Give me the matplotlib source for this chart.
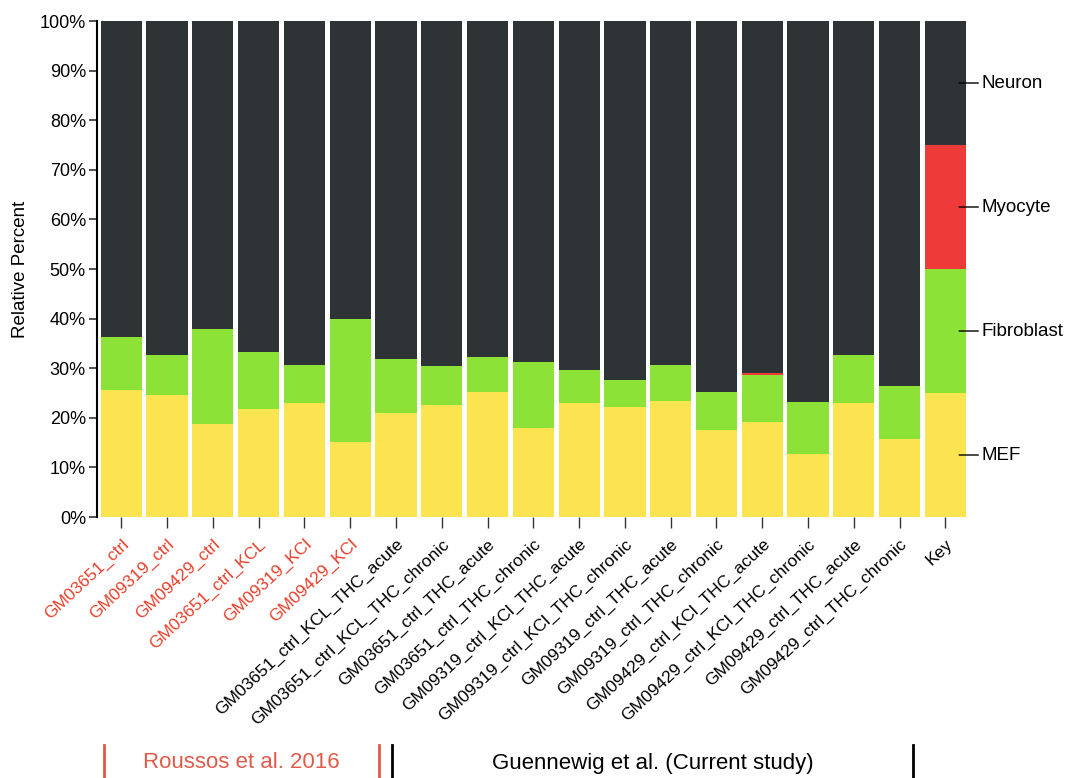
import numpy as np
import matplotlib.pyplot as plt
from matplotlib import transforms

plt.rcParams['font.family'] = ['Liberation Sans', 'DejaVu Sans']

# Muestras y proporciones de cada tipo celular (%)
samples = ["GM03651_ctrl", "GM09319_ctrl", "GM09429_ctrl", "GM03651_ctrl_KCL",
           "GM09319_KCl", "GM09429_KCl",
           "GM03651_ctrl_KCL_THC_acute", "GM03651_ctrl_KCL_THC_chronic",
           "GM03651_ctrl_THC_acute", "GM03651_ctrl_THC_chronic",
           "GM09319_ctrl_KCl_THC_acute", "GM09319_ctrl_KCl_THC_chronic",
           "GM09319_ctrl_THC_acute", "GM09319_ctrl_THC_chronic",
           "GM09429_ctrl_KCl_THC_acute", "GM09429_ctrl_KCl_THC_chronic",
           "GM09429_ctrl_THC_acute", "GM09429_ctrl_THC_chronic", "Key"]

mef        = [25.7, 24.5, 18.8, 21.7, 22.9, 15.2, 21.0, 22.6, 25.2, 17.9,
              23.0, 22.2, 23.4, 17.5, 19.2, 12.7, 23.0, 15.7, 25.0]
fibroblast = [10.5, 8.2, 19.1, 11.5, 7.8, 24.7, 10.9, 7.8, 7.1, 13.4,
              6.6, 5.5, 7.3, 7.7, 9.5, 10.5, 9.7, 10.8, 25.0]
myocyte    = [0, 0, 0, 0, 0, 0, 0, 0, 0, 0,
              0, 0, 0, 0, 0.3, 0, 0, 0, 25.0]
neuron     = list(100 - np.array(mef) - np.array(fibroblast) - np.array(myocyte))

cell_types = ["MEF", "Fibroblast", "Myocyte", "Neuron"]
colors = ["#fbe44f", "#8ce236", "#ee3a39", "#2e3336"]
n_published = 6   # primeras muestras: Roussos et al. 2016

fig = plt.figure(figsize=(10.71, 7.78), dpi=100)
ax = fig.add_axes([97/1071, 261/778, 869/1071, 496/778])

x = np.arange(len(samples))
bottom = np.zeros(len(samples))
for vals, col in zip([mef, fibroblast, myocyte, neuron], colors):
    vals = np.array(vals)
    ax.bar(x, vals, bottom=bottom, width=0.9, color=col,
           edgecolor='none', linewidth=0)
    bottom += vals

ax.set_xlim(-0.53, 18.45)
ax.set_ylim(0, 100)
ax.set_yticks(np.arange(0, 101, 10))
ax.set_yticklabels([f"{v}%" for v in range(0, 101, 10)], fontsize=13)
ax.set_ylabel("Relative Percent", fontsize=13.5, labelpad=8)

ax.set_xticks(x)
ax.set_xticklabels(samples, rotation=43, ha='right', rotation_mode='anchor',
                   fontsize=12.5)
for i, lab in enumerate(ax.get_xticklabels()):
    lab.set_color("#e8402c" if i < n_published else "black")

ax.tick_params(axis='x', length=8, width=1, color='#333333', pad=6)
ax.tick_params(axis='y', length=6, width=1.2, color='#333333', pad=2)
for side in ['top', 'right', 'bottom']:
    ax.spines[side].set_visible(False)
ax.spines['left'].set_linewidth(1.5)

# Etiquetas de la barra "Key"
key = len(samples) - 1
centers = np.cumsum([mef[key], fibroblast[key], myocyte[key], neuron[key]]) - 12.5
for name, yc in zip(cell_types, centers):
    ax.annotate(name, xy=(key + 0.3, yc), xytext=(key + 0.78, yc),
                fontsize=13.5, va='center', ha='left', annotation_clip=False,
                arrowprops=dict(arrowstyle='-', color='black', lw=1,
                                shrinkA=0, shrinkB=0))

# Grupos de estudio bajo el eje
trans = transforms.blended_transform_factory(ax.transData, fig.transFigure)
groups = [(-0.37, 5.63, "Roussos et al. 2016", "#e05a4a"),
          (5.92, 17.3, "Guennewig et al. (Current study)", "black")]
for x0, x1, txt, col in groups:
    for xe in (x0, x1):
        ax.plot([xe, xe], [0.0, 33/778], transform=trans, color=col,
                lw=2, clip_on=False)
    ax.text((x0 + x1) / 2, 15/778, txt, transform=trans, color=col,
            fontsize=16, ha='center', va='center')

plt.savefig("out.png", dpi=100)
plt.close()
